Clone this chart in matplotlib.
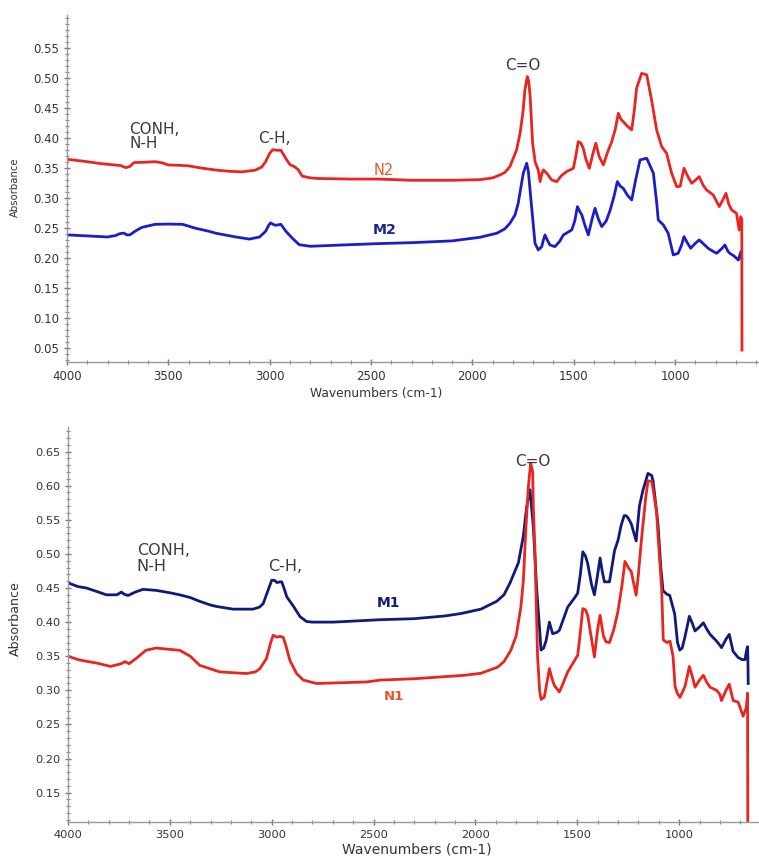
import matplotlib
matplotlib.use("Agg")
import matplotlib.pyplot as plt
from matplotlib.ticker import MultipleLocator, FormatStrFormatter

# ---- top panel: N2 (red) and M2 (blue) ----
n2_wn = [4000, 3900, 3840, 3780, 3735, 3710, 3690, 3670, 3620, 3565, 3530, 3500, 3450, 3400,
         3330, 3265, 3200, 3135, 3070, 3040, 3020, 3000, 2985, 2965, 2945, 2930, 2920, 2900,
         2880, 2860, 2840, 2800, 2760, 2600, 2460, 2300, 2100, 1963, 1900, 1864, 1840, 1815,
         1782, 1765, 1750, 1741, 1729, 1722, 1715, 1703, 1690, 1675, 1666, 1658, 1650, 1634,
         1609, 1584, 1560, 1535, 1502, 1490, 1478, 1465, 1453, 1440, 1423, 1405, 1391, 1375,
         1354, 1335, 1313, 1295, 1280, 1268, 1256, 1235, 1214, 1200, 1190, 1165, 1140, 1116,
         1091, 1066, 1042, 1017, 992, 975, 956, 935, 918, 900, 881, 862, 845, 812, 782, 765,
         749, 735, 721, 697, 684, 676, 671, 670]
n2_abs = [0.365, 0.361, 0.358, 0.356, 0.3545, 0.351, 0.353, 0.3595, 0.360, 0.361, 0.359, 0.3555,
          0.355, 0.354, 0.350, 0.347, 0.345, 0.344, 0.347, 0.352, 0.361, 0.375, 0.381, 0.380,
          0.380, 0.372, 0.366, 0.356, 0.353, 0.348, 0.337, 0.334, 0.333, 0.332, 0.332, 0.330,
          0.330, 0.331, 0.334, 0.3389, 0.343, 0.3528, 0.3806, 0.408, 0.445, 0.4806, 0.5028,
          0.495, 0.4694, 0.3917, 0.36, 0.3472, 0.3278, 0.340, 0.3472, 0.342, 0.3306, 0.3278,
          0.338, 0.3445, 0.350, 0.370, 0.3944, 0.392, 0.3833, 0.365, 0.350, 0.375, 0.3917,
          0.370, 0.3556, 0.375, 0.394, 0.415, 0.4417, 0.432, 0.4278, 0.420, 0.4139, 0.450,
          0.4833, 0.5083, 0.5056, 0.4639, 0.4139, 0.3861, 0.375, 0.3417, 0.3194, 0.320, 0.350,
          0.335, 0.325, 0.330, 0.3361, 0.322, 0.3139, 0.3056, 0.2861, 0.297, 0.3083, 0.290,
          0.2806, 0.275, 0.2472, 0.2694, 0.265, 0.047]

m2_wn = [4000, 3900, 3800, 3760, 3740, 3720, 3705, 3690, 3660, 3630, 3565, 3500, 3430, 3365,
         3300, 3265, 3167, 3100, 3050, 3020, 3005, 2996, 2980, 2970, 2945, 2920, 2890, 2855,
         2800, 2670, 2460, 2300, 2100, 1963, 1880, 1840, 1815, 1790, 1774, 1749, 1732, 1724,
         1708, 1691, 1675, 1658, 1650, 1642, 1630, 1617, 1593, 1570, 1551, 1510, 1495, 1482,
         1470, 1460, 1445, 1428, 1410, 1395, 1378, 1362, 1340, 1320, 1300, 1285, 1270, 1256,
         1235, 1214, 1195, 1173, 1140, 1107, 1090, 1083, 1058, 1034, 1009, 985, 968, 956, 940,
         923, 900, 881, 860, 837, 815, 795, 770, 754, 740, 730, 710, 688, 675, 671]
m2_abs = [0.239, 0.2373, 0.2355, 0.238, 0.241, 0.242, 0.239, 0.239, 0.246, 0.2516, 0.2566,
          0.257, 0.2566, 0.250, 0.245, 0.2417, 0.2355, 0.232, 0.2355, 0.245, 0.255, 0.259,
          0.256, 0.255, 0.2566, 0.245, 0.234, 0.2227, 0.220, 0.2218, 0.2245, 0.226, 0.229,
          0.235, 0.2417, 0.249, 0.2583, 0.272, 0.2917, 0.3417, 0.3583, 0.345, 0.286, 0.225,
          0.2139, 0.2194, 0.230, 0.2389, 0.230, 0.2222, 0.2194, 0.228, 0.2389, 0.2472, 0.262,
          0.286, 0.278, 0.2722, 0.255, 0.2389, 0.265, 0.2833, 0.265, 0.2528, 0.262, 0.2806,
          0.305, 0.3278, 0.320, 0.3167, 0.305, 0.2972, 0.330, 0.3639, 0.3667, 0.3417, 0.290,
          0.2639, 0.2556, 0.2417, 0.2056, 0.2083, 0.222, 0.2361, 0.226, 0.2167, 0.225, 0.2306,
          0.224, 0.2167, 0.212, 0.2083, 0.216, 0.2222, 0.212, 0.2083, 0.204, 0.1972, 0.2111,
          0.20]

# ---- bottom panel: M1 (navy) and N1 (red) ----
m1_wn = [4000, 3950, 3910, 3860, 3812, 3760, 3738, 3725, 3705, 3670, 3632, 3567, 3500, 3452,
         3400, 3354, 3300, 3272, 3190, 3091, 3060, 3042, 3020, 3000, 2985, 2975, 2960, 2951,
         2940, 2926, 2893, 2861, 2830, 2803, 2697, 2468, 2301, 2150, 2072, 1973, 1895, 1860,
         1830, 1789, 1765, 1748, 1732, 1716, 1699, 1685, 1678, 1665, 1653, 1637, 1621, 1600,
         1588, 1547, 1510, 1498, 1485, 1473, 1460, 1449, 1430, 1416, 1400, 1388, 1378, 1367,
         1342, 1317, 1300, 1285, 1270, 1260, 1249, 1235, 1211, 1195, 1178, 1153, 1135, 1128,
         1104, 1090, 1079, 1061, 1046, 1022, 1008, 997, 985, 971, 950, 935, 922, 900, 881, 865,
         848, 816, 800, 792, 770, 754, 735, 710, 690, 677, 668, 664, 662, 661]
m1_abs = [0.4575, 0.452, 0.450, 0.445, 0.440, 0.440, 0.444, 0.441, 0.439, 0.444, 0.448, 0.4465,
          0.443, 0.440, 0.436, 0.4305, 0.425, 0.423, 0.419, 0.419, 0.422, 0.427, 0.445, 0.4614,
          0.461, 0.458, 0.459, 0.459, 0.450, 0.437, 0.423, 0.408, 0.401, 0.400, 0.400, 0.4035,
          0.405, 0.409, 0.4125, 0.419, 0.4306, 0.440, 0.4575, 0.487, 0.5258, 0.570, 0.594,
          0.540, 0.4477, 0.390, 0.359, 0.362, 0.373, 0.400, 0.383, 0.385, 0.388, 0.422, 0.437,
          0.4425, 0.470, 0.503, 0.497, 0.486, 0.455, 0.440, 0.470, 0.494, 0.475, 0.459, 0.459,
          0.505, 0.520, 0.5415, 0.556, 0.556, 0.552, 0.544, 0.519, 0.570, 0.593, 0.618, 0.615,
          0.607, 0.544, 0.480, 0.446, 0.441, 0.439, 0.412, 0.370, 0.359, 0.362, 0.379, 0.4085,
          0.398, 0.387, 0.393, 0.399, 0.390, 0.382, 0.372, 0.366, 0.3625, 0.375, 0.382, 0.357,
          0.348, 0.345, 0.345, 0.360, 0.364, 0.335, 0.31]

n1_wn = [4000, 3950, 3910, 3860, 3791, 3740, 3720, 3700, 3660, 3618, 3567, 3500, 3452, 3400,
         3354, 3255, 3124, 3080, 3058, 3026, 3005, 2993, 2975, 2960, 2944, 2930, 2911, 2878,
         2845, 2780, 2534, 2468, 2300, 2055, 1973, 1891, 1860, 1826, 1800, 1777, 1765, 1752,
         1740, 1729, 1719, 1716, 1708, 1695, 1685, 1678, 1662, 1650, 1637, 1625, 1613, 1588,
         1570, 1547, 1498, 1485, 1473, 1460, 1449, 1430, 1416, 1400, 1388, 1372, 1359, 1342,
         1320, 1301, 1280, 1266, 1250, 1235, 1211, 1200, 1186, 1165, 1153, 1135, 1128, 1110,
         1104, 1086, 1078, 1060, 1045, 1030, 1020, 1010, 996, 971, 950, 935, 922, 900, 881, 865,
         848, 816, 800, 792, 770, 754, 735, 710, 686, 670, 664, 663]
n1_abs = [0.350, 0.345, 0.3426, 0.340, 0.335, 0.339, 0.342, 0.339, 0.348, 0.3587, 0.362, 0.360,
          0.3587, 0.350, 0.3367, 0.327, 0.3246, 0.327, 0.3318, 0.3465, 0.370, 0.3807, 0.378,
          0.379, 0.378, 0.365, 0.344, 0.3246, 0.315, 0.310, 0.3123, 0.315, 0.317, 0.322, 0.325,
          0.334, 0.342, 0.3587, 0.380, 0.422, 0.460, 0.5395, 0.599, 0.633, 0.620, 0.570, 0.505,
          0.350, 0.300, 0.2867, 0.290, 0.310, 0.3318, 0.318, 0.3074, 0.2976, 0.310, 0.327,
          0.3514, 0.385, 0.4198, 0.418, 0.410, 0.375, 0.349, 0.390, 0.410, 0.380, 0.371, 0.370,
          0.390, 0.415, 0.455, 0.489, 0.480, 0.474, 0.4395, 0.470, 0.518, 0.580, 0.607, 0.6065,
          0.595, 0.560, 0.528, 0.450, 0.374, 0.370, 0.372, 0.350, 0.306, 0.296, 0.2896, 0.306,
          0.335, 0.320, 0.3045, 0.315, 0.322, 0.312, 0.3045, 0.300, 0.294, 0.285, 0.300, 0.309,
          0.285, 0.2826, 0.262, 0.275, 0.296, 0.09]

x_ticks = [4000, 3500, 3000, 2500, 2000, 1500, 1000]

red = "#e8251f"
blue = "#1c1cc8"
navy = "#101a78"
lab_red = "#e4572e"
note = "#3a3a3a"
axis_gray = "#9a9a9a"

fig = plt.figure(figsize=(7.59, 8.6), dpi=100)
ax1 = fig.add_axes([0.0883, 0.5791, 0.9117, 0.4035])
ax2 = fig.add_axes([0.0896, 0.0442, 0.9104, 0.4593])


def style(ax, ylo, yhi, xright, ytick_lo, ytick_hi, fs):
    ax.set_xlim(4000, xright)
    ax.set_ylim(ylo, yhi)
    ax.set_xticks(x_ticks)
    ax.xaxis.set_minor_locator(MultipleLocator(100))
    yt = [round(ytick_lo + 0.05 * i, 2) for i in range(int(round((ytick_hi - ytick_lo) / 0.05)) + 1)]
    ax.set_yticks(yt)
    ax.yaxis.set_major_formatter(FormatStrFormatter("%.2f"))
    ax.yaxis.set_minor_locator(MultipleLocator(0.01))
    for s in ["top", "right"]:
        ax.spines[s].set_visible(False)
    for s in ["left", "bottom"]:
        ax.spines[s].set_color(axis_gray)
        ax.spines[s].set_linewidth(1.0)
    ax.tick_params(which="major", direction="inout", length=5, width=1, color="#777777",
                   labelsize=fs, labelcolor="#333333", pad=3)
    ax.tick_params(which="minor", direction="inout", length=3, width=0.8, color="#888888")


# top panel
style(ax1, 0.0272, 0.6055, 586, 0.05, 0.55, 8.5)
ax1.plot(m2_wn, m2_abs, color=blue, lw=2.0)
ax1.plot(n2_wn, n2_abs, color=red, lw=2.0)
ax1.set_xlabel("Wavenumbers (cm-1)", fontsize=8.8, color="#333333")
ax1.xaxis.set_label_coords(0.4465, -0.072)
ax1.set_ylabel("Absorbance", fontsize=7.3, color="#333333")
ax1.yaxis.set_label_coords(-0.068, 0.504)
ax1.text(3694, 0.403, "CONH,\nN-H", fontsize=11, color=note, ha="left", va="center", linespacing=0.95)
ax1.text(3058, 0.400, "C-H,", fontsize=11, color=note, ha="left", va="center")
ax1.text(1753, 0.522, "C=O", fontsize=11, color=note, ha="center", va="center")
ax1.text(2489, 0.347, "N2", fontsize=10.5, color=lab_red, ha="left", va="center")
ax1.text(2492, 0.2472, "M2", fontsize=10.2, color="#1a2590", fontweight="bold", ha="left", va="center")

# bottom panel
style(ax2, 0.107, 0.686, 608, 0.15, 0.65, 8.2)
ax2.plot(m1_wn, m1_abs, color=navy, lw=2.0)
ax2.plot(n1_wn, n1_abs, color=red, lw=2.0)
ax2.set_xlabel("Wavenumbers (cm-1)", fontsize=10, color="#333333")
ax2.xaxis.set_label_coords(0.505, -0.053)
ax2.set_ylabel("Absorbance", fontsize=9.1, color="#333333")
ax2.yaxis.set_label_coords(-0.0666, 0.516)
ax2.text(3663, 0.4927, "CONH,\nN-H", fontsize=11.5, color=note, ha="left", va="center", linespacing=1.1)
ax2.text(3017, 0.482, "C-H,", fontsize=11.5, color=note, ha="left", va="center")
ax2.text(1720, 0.635, "C=O", fontsize=11, color=note, ha="center", va="center")
ax2.text(2485, 0.428, "M1", fontsize=10, color=navy, fontweight="bold", ha="left", va="center")
ax2.text(2452, 0.291, "N1", fontsize=9.5, color=lab_red, fontweight="bold", ha="left", va="center")

fig.savefig("out.png", dpi=100)
